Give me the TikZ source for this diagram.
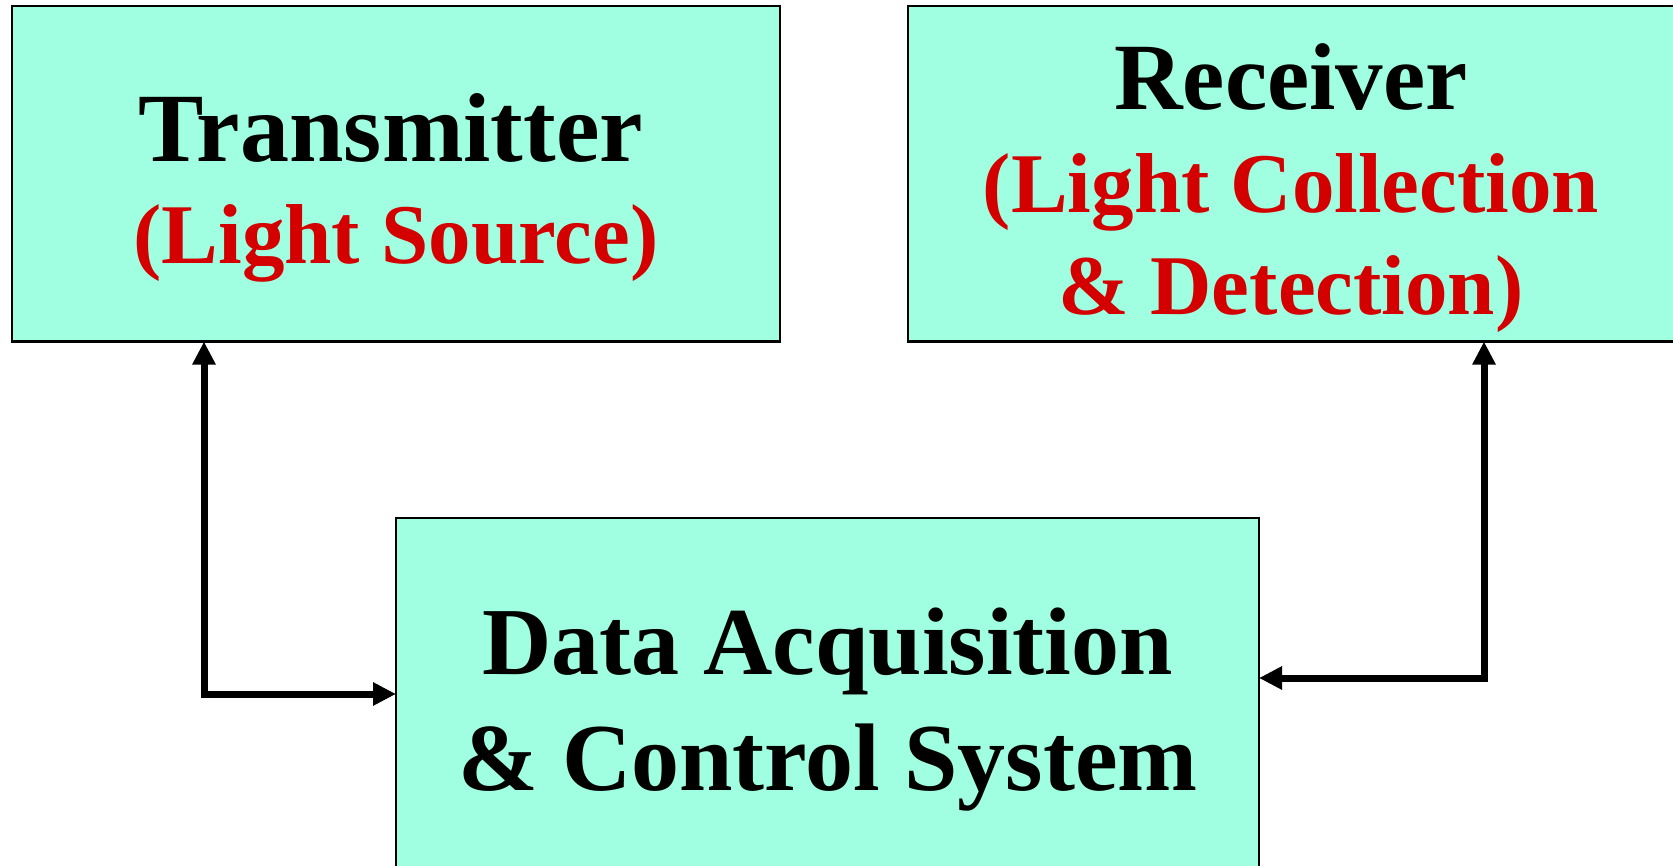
\documentclass[tikz,border=0pt]{standalone}
\usepackage{fontspec}
\setmainfont{Liberation Serif}
\usetikzlibrary{arrows.meta}
\definecolor{boxfill}{HTML}{9FFFE0}
\definecolor{redtxt}{HTML}{D40000}
\tikzset{
  blockbox/.style={draw=black, line width=2.5pt, fill=boxfill, rectangle, inner sep=0pt, outer sep=0pt},
  bigtxt/.style={anchor=base, inner sep=0pt, font=\fontsize{#1}{#1}\selectfont\bfseries, text=black},
  bigtxt/.default=98,
  redline/.style={anchor=base, inner sep=0pt, font=\fontsize{85}{85}\selectfont\bfseries, text=redtxt},
  conn/.style={line width=7pt, {Triangle[length=23pt,width=22pt]}-{Triangle[length=23pt,width=22pt]}}
}
\begin{document}
\begin{tikzpicture}[x=1pt,y=-1pt]
\useasboundingbox (0,0) rectangle (1673,866);
\begin{scope}
\clip (0,0) rectangle (1673,866);
\node[blockbox, minimum width=768pt, minimum height=335.5pt] (tx) at (396,173.8) {};
\node[blockbox, minimum width=766pt, minimum height=335.5pt] (rx) at (1291,173.8) {};
\node[blockbox, minimum width=863pt, minimum height=382pt] (daq) at (827.5,709) {};
\end{scope}
\node[bigtxt=98] (t1) at (391,162) {Transmitter};
\node[redline] (t2) at (396,264) {(Light Source)};
\node[bigtxt=95] (r1) at (1291,110) {Receiver};
\node[redline] (r2) at (1291,213) {(Light Collection};
\node[redline] (r3) at (1291,315) {\& Detection)};
\node[bigtxt=96] (d1) at (827.5,674) {Data Acquisition};
\node[bigtxt=96] (d2) at (828,790) {\& Control System};
\coordinate (lc) at (204,694);
\coordinate (rc) at (1484,678);
\draw[conn] (daq.west |- lc) -- (lc) -- (lc |- tx.south);
\draw[conn] (daq.east |- rc) -- (rc) -- (rc |- rx.south);
\end{tikzpicture}
\end{document}
